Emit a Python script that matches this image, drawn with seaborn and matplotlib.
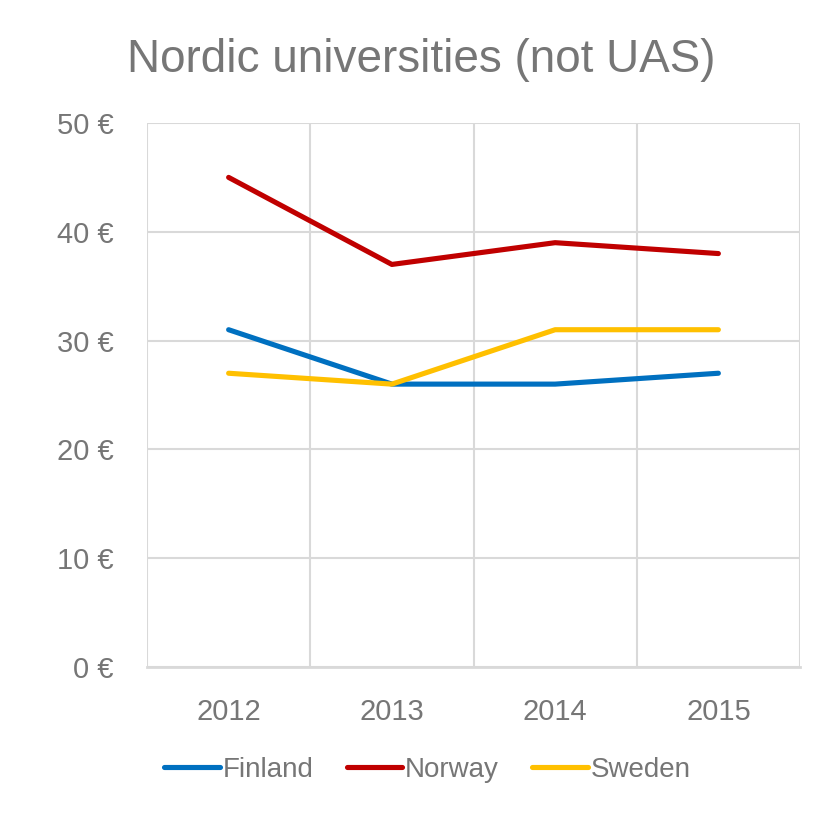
import matplotlib
matplotlib.use("Agg")
import matplotlib.pyplot as plt
import pandas as pd
import seaborn as sns

# data
years = ["2012", "2013", "2014", "2015"]
finland = [31, 26, 26, 27]
norway = [45, 37, 39, 38]
sweden = [27, 26, 31, 31]
y_ticks = [0, 10, 20, 30, 40, 50]

colors = {"Finland": "#0070C0", "Norway": "#C00000", "Sweden": "#FFC000"}
text_col = "#767676"
grid_col = "#D9D9D9"

df = pd.DataFrame({
    "year": years * 3,
    "country": ["Finland"] * 4 + ["Norway"] * 4 + ["Sweden"] * 4,
    "value": finland + norway + sweden,
})

sns.set_style("white")
plt.rcParams["font.family"] = ["Liberation Sans Narrow", "Liberation Sans", "DejaVu Sans"]

fig = plt.figure(figsize=(8.22, 8.13), dpi=100)
ax = fig.add_axes([147 / 822, 1 - 667 / 813, 653 / 822, 544 / 813])

sns.lineplot(data=df, x="year", y="value", hue="country", palette=colors,
             linewidth=3.7, ax=ax, legend=True, solid_capstyle="round")

ax.set_xlim(-0.5, 3.5)
ax.set_ylim(0, 50)
ax.set_yticks(y_ticks)
ax.set_yticklabels([f"{v} €" for v in y_ticks])
ax.set_xticks(range(len(years)))
ax.set_xticklabels(years)
ax.set_xticks([-0.5, 0.5, 1.5, 2.5, 3.5], minor=True)

ax.grid(axis="y", which="major", color=grid_col, linewidth=1.5)
ax.grid(axis="x", which="minor", color=grid_col, linewidth=1.5)
ax.grid(axis="x", which="major", visible=False)
ax.set_axisbelow(True)

for side in ["top", "right", "left"]:
    ax.spines[side].set_visible(False)
ax.spines["bottom"].set_color(grid_col)
ax.spines["bottom"].set_linewidth(2)

ax.tick_params(axis="both", which="both", length=0, labelsize=21, colors=text_col)
ax.tick_params(axis="x", pad=22)
ax.tick_params(axis="y", pad=24)
ax.set_xlabel("")
ax.set_ylabel("")

fig.text(0.513, 1 - 60 / 813, "Nordic universities (not UAS)", ha="center", va="center",
         fontsize=33, color=text_col)

handles, labels = ax.get_legend_handles_labels()
for h in handles:
    h.set_solid_capstyle("round")
leg = fig.legend(handles, labels, loc="center", bbox_to_anchor=(0.52, 1 - 770 / 813),
                 ncol=3, frameon=False, fontsize=20, handlelength=2.0,
                 handletextpad=0.1, columnspacing=1.2, labelcolor=text_col)
ax.get_legend().remove()

fig.savefig("out.png", dpi=100, facecolor="white")
